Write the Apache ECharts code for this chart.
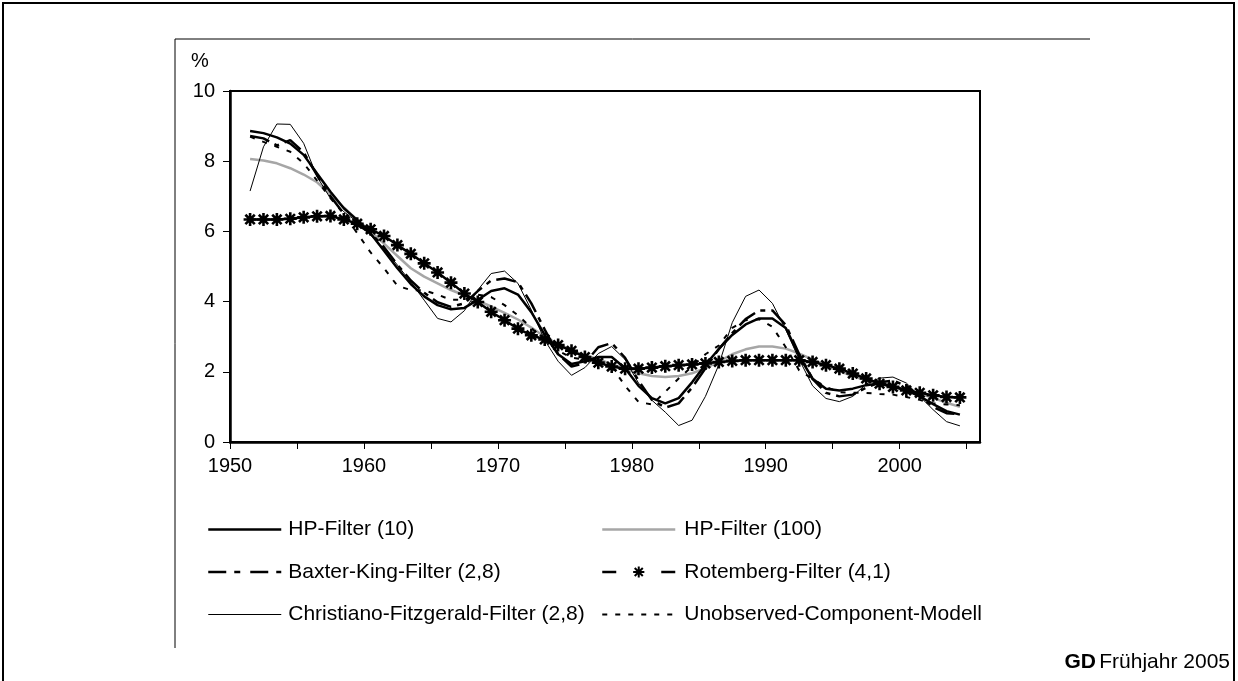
<!DOCTYPE html>
<html>
<head>
<meta charset="utf-8">
<script src="https://cdn.jsdelivr.net/npm/echarts@6/dist/echarts.min.js"></script>
<style>
  html, body { margin: 0; padding: 0; background: #fff; }
  #chart { width: 1238px; height: 681px; }
</style>
</head>
<body>
<div id="chart"></div>
<script>
// years 1951..2004
var years = [];
for (var y = 1951; y <= 2004; y++) years.push(y);

var hp10 = [8.86, 8.80, 8.68, 8.50, 8.18, 7.65, 7.13, 6.66, 6.32, 5.94,
  5.45, 4.95, 4.50, 4.15, 3.90, 3.78, 3.82, 4.05, 4.30, 4.38,
  4.20, 3.70, 3.05, 2.50, 2.22, 2.30, 2.42, 2.42, 2.10, 1.60,
  1.25, 1.10, 1.25, 1.70, 2.20, 2.65, 3.05, 3.35, 3.52, 3.52,
  3.25, 2.45, 1.80, 1.52, 1.47, 1.52, 1.62, 1.67, 1.60, 1.47,
  1.30, 1.08, 0.88, 0.78];

var hp100 = [8.06, 8.02, 7.94, 7.80, 7.62, 7.40, 7.05, 6.68, 6.33, 6.00,
  5.65, 5.30, 4.95, 4.71, 4.52, 4.33, 4.18, 4.03, 3.86, 3.68,
  3.49, 3.26, 3.00, 2.79, 2.61, 2.47, 2.36, 2.22, 2.08, 1.96,
  1.88, 1.85, 1.88, 1.96, 2.10, 2.30, 2.50, 2.64, 2.72, 2.72,
  2.66, 2.52, 2.35, 2.18, 2.02, 1.88, 1.76, 1.66, 1.57, 1.48,
  1.38, 1.25, 1.12, 1.00];

var baxterKing = [8.72, 8.65, 8.45, 8.60, 8.25, 7.60, 7.00, 6.50, 6.20, 5.95,
  5.55, 5.05, 4.60, 4.25, 3.98, 3.85, 3.95, 4.30, 4.60, 4.66,
  4.55, 3.95, 3.20, 2.50, 2.15, 2.25, 2.70, 2.82, 2.40, 1.75,
  1.20, 0.98, 1.10, 1.55, 2.10, 2.65, 3.10, 3.50, 3.75, 3.75,
  3.33, 2.50, 1.80, 1.40, 1.30, 1.35, 1.55, 1.70, 1.75, 1.60,
  1.30, 1.00, 0.82, 0.80];

var rotemberg = [6.34, 6.34, 6.34, 6.36, 6.40, 6.43, 6.44, 6.34, 6.22, 6.06,
  5.87, 5.61, 5.36, 5.09, 4.83, 4.54, 4.23, 3.99, 3.71, 3.47,
  3.23, 3.04, 2.92, 2.76, 2.60, 2.42, 2.26, 2.15, 2.09, 2.09,
  2.12, 2.16, 2.19, 2.21, 2.24, 2.28, 2.31, 2.33, 2.33, 2.33,
  2.33, 2.33, 2.28, 2.19, 2.09, 1.95, 1.81, 1.66, 1.57, 1.47,
  1.40, 1.33, 1.28, 1.27];

var christianoFitz = [7.15, 8.41, 9.06, 9.05, 8.51, 7.56, 6.94, 6.56, 6.27, 5.89,
  5.51, 5.04, 4.56, 4.04, 3.52, 3.42, 3.74, 4.33, 4.80, 4.87,
  4.52, 3.76, 2.90, 2.30, 1.90, 2.12, 2.52, 2.72, 2.35, 1.68,
  1.19, 0.85, 0.47, 0.62, 1.30, 2.20, 3.40, 4.15, 4.33, 3.95,
  3.20, 2.35, 1.60, 1.24, 1.15, 1.30, 1.65, 1.82, 1.85, 1.68,
  1.30, 0.92, 0.58, 0.46];

var unobserved = [8.70, 8.55, 8.41, 8.27, 7.94, 7.45, 6.95, 6.50, 5.95, 5.40,
  4.95, 4.45, 4.33, 4.32, 4.20, 4.05, 4.05, 4.20, 4.13, 3.90,
  3.61, 3.25, 2.90, 2.60, 2.40, 2.35, 2.30, 2.15, 1.60, 1.14,
  1.07, 1.43, 1.81, 2.15, 2.50, 2.75, 3.25, 3.47, 3.50, 3.28,
  2.70, 2.04, 1.80, 1.57, 1.42, 1.40, 1.40, 1.37, 1.35, 1.28,
  1.20, 1.10, 1.07, 1.05];

var tickYears = [1950, 1955, 1960, 1965, 1970, 1975, 1980, 1985, 1990, 1995, 2000, 2005];
var labelYears = [1950, 1960, 1970, 1980, 1990, 2000];

// each year is drawn in the middle of its slot
function pairs(values) {
  return years.map(function (yr, i) { return [yr + 0.5, values[i]]; });
}

var star = 'path://M0,-1L0,1M-1,0L1,0M-0.72,-0.72L0.72,0.72M-0.72,0.72L0.72,-0.72';
var font = 'Liberation Sans, Arial, sans-serif';
var noMark = { opacity: 0 };

var chart = echarts.init(document.getElementById('chart'));
var option = {
  animation: false,
  backgroundColor: '#fff',
  textStyle: { fontFamily: font },
  grid: {
    left: 230, top: 91, width: 750, height: 351,
    show: true, borderColor: '#000', borderWidth: 2, backgroundColor: 'transparent'
  },
  xAxis: {
    type: 'value', min: 1950, max: 2006, interval: 5,
    splitLine: { show: false },
    axisLine: { lineStyle: { color: '#000', width: 2.5 } },
    axisTick: { show: true, length: 7, lineStyle: { color: '#000', width: 1 }, customValues: tickYears },
    axisLabel: { color: '#000', fontSize: 20, margin: 14, fontFamily: font, customValues: labelYears,
      formatter: function (v) { return v % 10 === 0 && v <= 2000 ? String(v) : ''; } }
  },
  yAxis: {
    type: 'value', min: 0, max: 10, interval: 2,
    splitLine: { show: false },
    axisLine: { show: true, lineStyle: { color: '#000', width: 2.5 } },
    axisTick: { show: true, inside: false, length: 7, lineStyle: { color: '#000', width: 1 } },
    axisLabel: { color: '#000', fontSize: 20, margin: 15, fontFamily: font }
  },
  legend: [
    {
      orient: 'vertical', left: 207, top: 519, padding: 0,
      itemWidth: 73, itemHeight: 14, itemGap: 21.5,
      textStyle: { fontSize: 21, color: '#000', fontFamily: font, padding: [0, 0, 0, 2] },
      data: [
        { name: 'HP-Filter (10)', itemStyle: noMark, lineStyle: { width: 2.5 } },
        { name: 'Baxter-King-Filter (2,8)', itemStyle: noMark, lineStyle: { width: 2.5, type: [18, 8, 6, 10] } },
        { name: 'Christiano-Fitzgerald-Filter (2,8)', itemStyle: noMark, lineStyle: { width: 1 } }
      ]
    },
    {
      orient: 'vertical', left: 601, top: 519, padding: 0,
      itemWidth: 73, itemHeight: 14, itemGap: 21.5,
      textStyle: { fontSize: 21, color: '#000', fontFamily: font, padding: [0, 0, 0, 4] },
      data: [
        { name: 'HP-Filter (100)', itemStyle: noMark, lineStyle: { width: 2.5 } },
        { name: 'Rotemberg-Filter (4,1)', lineStyle: { width: 2.5, type: [14, 45] } },
        { name: 'Unobserved-Component-Modell', itemStyle: noMark, lineStyle: { width: 2, type: [5, 8] } }
      ]
    }
  ],
  graphic: [
    { type: 'rect', shape: { x: 3, y: 3, width: 1231, height: 700 }, style: { fill: 'none', stroke: '#000', lineWidth: 2 }, silent: true },
    { type: 'line', shape: { x1: 175, y1: 39, x2: 1090, y2: 39 }, style: { stroke: '#000', lineWidth: 1 }, silent: true },
    { type: 'line', shape: { x1: 175, y1: 39, x2: 175, y2: 648 }, style: { stroke: '#000', lineWidth: 1 }, silent: true },
    { type: 'text', left: 191, top: 51, style: { text: '%', fontSize: 20, fill: '#000', fontFamily: font } },
    { type: 'text', right: 8, top: 652, style: { rich: { b: { fontWeight: 'bold', fontSize: 21, fontFamily: font }, n: { fontSize: 21, fontFamily: font } }, text: '{b|GD} {n|Frühjahr 2005}', fill: '#000' } }
  ],
  series: [
    { name: 'HP-Filter (100)', type: 'line', data: pairs(hp100), symbol: 'none', z: 2,
      lineStyle: { color: '#a6a6a6', width: 2.5 }, itemStyle: { color: '#a6a6a6' } },
    { name: 'Christiano-Fitzgerald-Filter (2,8)', type: 'line', data: pairs(christianoFitz), symbol: 'none', z: 3,
      lineStyle: { color: '#000', width: 1 }, itemStyle: { color: '#000' } },
    { name: 'Unobserved-Component-Modell', type: 'line', data: pairs(unobserved), symbol: 'none', z: 4,
      lineStyle: { color: '#000', width: 2, type: [5, 8] }, itemStyle: { color: '#000' } },
    { name: 'Baxter-King-Filter (2,8)', type: 'line', data: pairs(baxterKing), symbol: 'none', z: 5,
      lineStyle: { color: '#000', width: 2.5, type: [20, 6, 5, 6] }, itemStyle: { color: '#000' } },
    { name: 'HP-Filter (10)', type: 'line', data: pairs(hp10), symbol: 'none', z: 6,
      lineStyle: { color: '#000', width: 2.5 }, itemStyle: { color: '#000' } },
    { name: 'Rotemberg-Filter (4,1)', type: 'line', data: pairs(rotemberg), z: 7,
      symbol: star, symbolSize: 13, showAllSymbol: true,
      lineStyle: { color: '#000', width: 2.5 },
      itemStyle: { color: '#000', borderColor: '#000', borderWidth: 2.6 } }
  ]
};
chart.setOption(option);
</script>
</body>
</html>
